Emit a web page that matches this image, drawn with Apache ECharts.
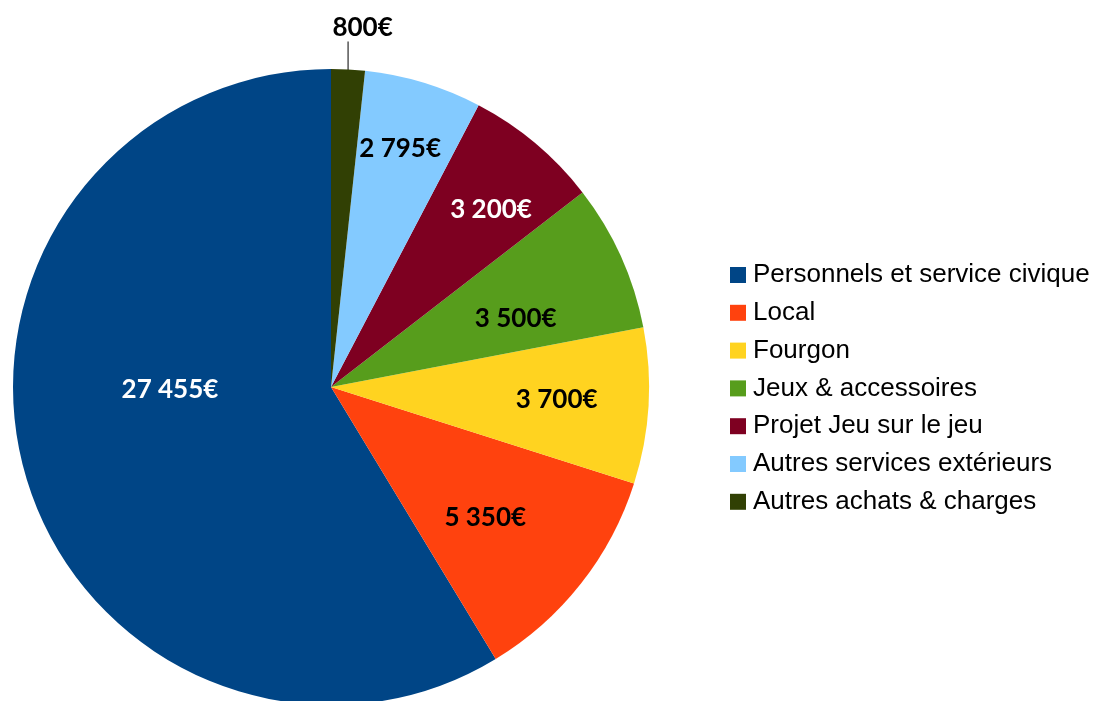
<!DOCTYPE html>
<html>
<head>
<meta charset="utf-8">
<script src="https://cdn.jsdelivr.net/npm/echarts@6/dist/echarts.min.js"></script>
<style>
  html, body { margin: 0; padding: 0; background: #fff; }
  #chart { width: 1097px; height: 701px; }
</style>
</head>
<body>
<div id="chart"></div>
<script>
// budget categories and amounts (€)
const categories = [
  "Personnels et service civique",
  "Local",
  "Fourgon",
  "Jeux & accessoires",
  "Projet Jeu sur le jeu",
  "Autres services extérieurs",
  "Autres achats & charges"
];
const amounts = [27455, 5350, 3700, 3500, 3200, 2795, 800];

// styling per slice
const colors = ["#004586", "#ff420e", "#ffd320", "#579d1c", "#7e0021", "#83caff", "#314004"];
const labelColors = ["#fff", "#000", "#000", "#000", "#fff", "#000", "#000"];
// nudges of each label from its default spot (px)
const labelShift = [[-5, -41], [27, 30], [64, 3], [37, -2], [56, -53], [22, -83], [-22, -17]];

function euro(v) {
  return String(v).replace(/\B(?=(\d{3})+(?!\d))/g, " ") + "€";
}

const lastIdx = categories.length - 1;
const seriesData = categories.map((name, i) => ({
  name: name,
  value: amounts[i],
  itemStyle: { color: colors[i] },
  label: {
    color: labelColors[i],
    position: i === lastIdx ? "outside" : "inside"
  },
  labelLine: { show: i === lastIdx }
}));

const option = {
  animation: false,
  legend: {
    orient: "vertical",
    left: 730,
    top: 262,
    padding: 0,
    itemWidth: 16,
    itemHeight: 16,
    itemGap: 11.8,
    icon: "rect",
    textStyle: {
      fontFamily: "Liberation Sans",
      fontSize: 26,
      lineHeight: 26,
      color: "#000",
      padding: [0, 0, 0, 2]
    }
  },
  series: [
    {
      type: "pie",
      center: [331, 387],
      radius: 318,
      startAngle: 90,
      clockwise: false,
      avoidLabelOverlap: false,
      label: {
        formatter: (p) => euro(p.value),
        fontFamily: "Lato",
        fontWeight: "bold",
        fontSize: 26
      },
      labelLine: {
        length: 25,
        length2: 0,
        lineStyle: { color: "#000", width: 1 }
      },
      labelLayout: (params) => {
        const s = labelShift[params.dataIndex];
        const res = { dx: s[0], dy: s[1] };
        const pts = params.labelLinePoints;
        if (params.dataIndex === lastIdx && pts && pts.length) {
          // leader line starts a bit inside the slice, goes straight up to the label
          const x = pts[0][0];
          const r = params.labelRect;
          res.labelLinePoints = [[x, pts[0][1] + 33], [x, r.y + r.height + s[1] + 1]];
        }
        return res;
      },
      data: seriesData
    }
  ]
};

const myChart = echarts.init(document.getElementById("chart"));
myChart.setOption(option);
</script>
</body>
</html>
